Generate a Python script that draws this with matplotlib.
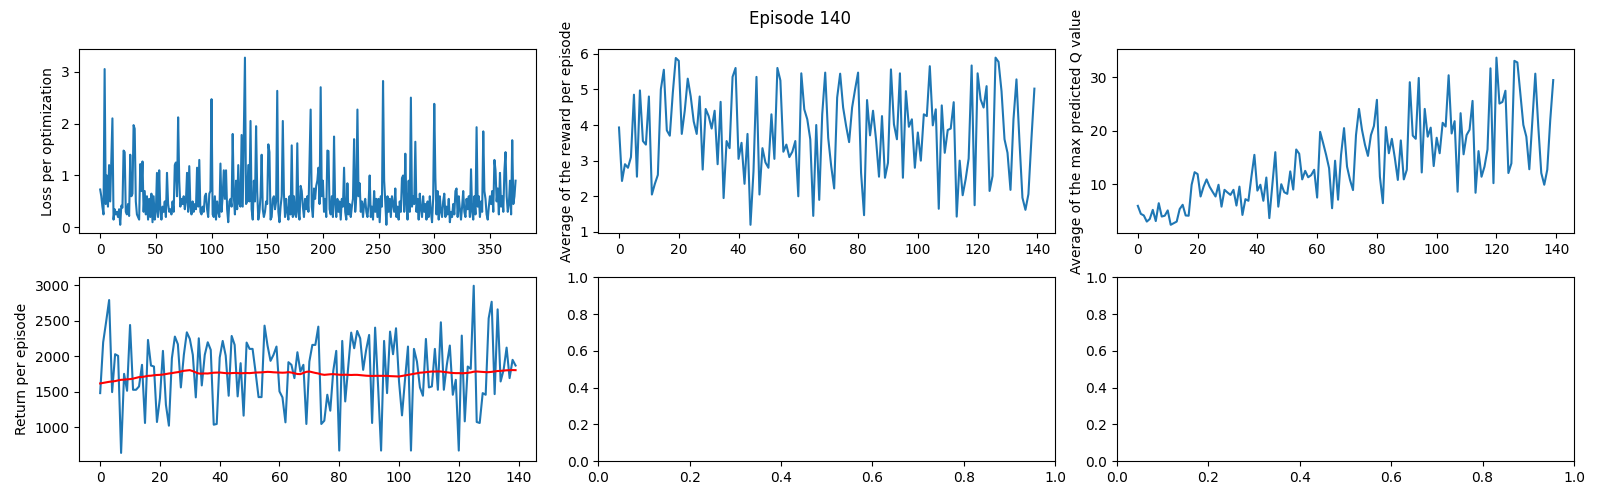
import matplotlib
matplotlib.use("Agg")
import matplotlib.pyplot as plt
import numpy as np

loss = [
0.73, 0.6, 0.4, 0.25, 3.05, 0.45, 1.0, 0.4, 1.2, 0.5,
1.27, 2.1, 0.15, 0.35, 0.25, 0.3, 0.2, 0.35, 0.05, 0.42,
0.38, 1.48, 1.45, 0.3, 0.25, 0.45, 0.22, 1.4, 0.6, 0.65,
1.97, 1.9, 0.5, 0.25, 0.2, 0.15, 1.22, 0.7, 1.27, 0.3,
0.7, 0.25, 0.6, 0.15, 0.55, 0.2, 0.65, 0.1, 0.6, 0.15,
0.3, 1.05, 0.2, 1.1, 0.35, 0.15, 0.4, 0.3, 0.5, 0.2,
1.05, 0.45, 0.3, 0.35, 0.25, 0.5, 0.3, 1.2, 1.25, 0.6,
2.12, 0.9, 0.4, 0.55, 0.45, 0.6, 0.35, 0.5, 1.05, 0.3,
1.18, 0.4, 0.25, 0.5, 0.3, 0.45, 0.35, 1.15, 0.4, 1.3,
0.3, 0.25, 0.4, 0.3, 0.6, 0.65, 0.35, 0.2, 0.65, 0.7,
2.47, 0.25, 0.2, 0.6, 0.15, 0.5, 0.3, 0.2, 1.23, 0.3,
0.6, 1.1, 0.55, 1.1, 0.35, 0.1, 0.5, 0.55, 0.4, 1.8,
0.6, 0.25, 0.9, 0.35, 1.2, 0.45, 0.4, 1.78, 0.4, 1.78,
3.27, 0.45, 0.5, 1.2, 0.5, 2.05, 0.35, 0.15, 0.9, 0.5,
1.95, 0.7, 0.15, 0.3, 0.6, 1.4, 0.35, 0.2, 0.3, 0.5,
0.45, 1.6, 1.45, 0.15, 0.2, 0.55, 0.6, 0.35, 0.5, 2.63,
0.3, 0.1, 0.4, 0.6, 2.05, 0.65, 0.2, 0.55, 0.3, 0.15,
0.6, 0.25, 1.58, 0.2, 0.6, 0.25, 0.2, 1.62, 0.3, 0.15,
0.8, 0.7, 0.4, 0.2, 0.55, 0.35, 0.6, 0.3, 1.3, 2.27,
0.4, 0.2, 0.75, 0.55, 0.8, 0.9, 1.15, 0.45, 2.7, 0.6,
0.9, 0.3, 0.55, 0.2, 1.48, 1.47, 0.35, 0.25, 0.6, 0.2,
1.75, 0.45, 0.2, 0.55, 0.3, 0.5, 0.15, 0.55, 0.4, 1.15,
0.3, 0.15, 0.85, 0.25, 0.45, 0.2, 0.4, 0.55, 1.7, 0.3,
0.6, 2.27, 0.6, 0.85, 0.3, 0.5, 0.2, 0.45, 0.55, 0.3,
0.2, 0.45, 1.0, 0.2, 0.4, 0.15, 0.7, 0.3, 0.55, 0.2,
0.55, 0.1, 0.6, 0.4, 2.82, 0.9, 0.5, 0.05, 0.6, 0.3,
0.55, 0.2, 0.6, 0.45, 0.3, 0.75, 0.2, 0.4, 0.15, 0.5,
0.3, 0.95, 1.0, 0.3, 1.42, 0.45, 0.15, 0.9, 0.3, 2.5,
0.4, 0.6, 0.45, 1.65, 0.3, 0.55, 0.15, 0.65, 0.35, 0.2,
0.6, 0.3, 0.45, 0.15, 0.5, 0.2, 0.6, 0.3, 0.1, 0.55,
2.38, 0.95, 0.25, 0.7, 0.15, 0.6, 0.3, 0.2, 0.5, 0.65,
0.2, 0.4, 0.25, 0.55, 0.1, 0.3, 0.2, 0.45, 0.25, 0.7,
0.75, 0.2, 0.6, 0.35, 0.15, 0.4, 0.7, 0.3, 0.2, 0.55,
0.35, 0.6, 0.2, 1.12, 0.3, 0.15, 0.6, 0.25, 1.93, 0.4,
0.6, 0.2, 0.5, 0.3, 1.85, 0.7, 0.55, 0.25, 0.15, 0.4,
0.6, 0.45, 0.7, 0.3, 1.3, 1.1, 0.5, 0.75, 0.25, 1.05,
0.4, 0.6, 0.3, 1.1, 1.45, 0.6, 0.3, 0.45, 0.9, 0.25,
1.68, 0.45, 0.6, 0.9,
]

reward = [
3.93, 2.43, 2.9, 2.8, 3.1, 4.85, 2.55, 4.97, 3.55, 3.45,
4.8, 2.05, 2.35, 2.6, 5.0, 5.55, 3.85, 3.7, 4.9, 5.88,
5.8, 3.75, 4.4, 5.3, 4.8, 4.1, 3.75, 4.8, 2.75, 4.45,
4.25, 3.9, 4.4, 2.9, 4.65, 1.95, 3.55, 3.35, 5.35, 5.6,
3.05, 3.5, 2.35, 3.75, 1.2, 2.7, 5.35, 2.05, 3.35, 2.95,
2.8, 4.3, 3.05, 5.6, 5.25, 3.25, 3.45, 3.1, 3.25, 3.55,
2.0, 5.45, 4.44, 4.16, 3.6, 1.45, 4.0, 1.9, 4.3, 5.47,
3.64, 2.85, 2.22, 4.77, 5.44, 4.49, 3.97, 3.52, 4.49, 5.0,
5.47, 2.66, 1.47, 4.7, 3.71, 4.4, 3.6, 2.55, 4.25, 2.52,
2.94, 5.56, 4.02, 3.6, 5.45, 2.52, 4.95, 3.95, 4.16, 2.8,
3.79, 3.0, 4.3, 4.25, 5.65, 3.99, 4.44, 1.65, 4.55, 3.22,
3.86, 3.9, 4.64, 1.43, 3.0, 2.03, 2.48, 3.06, 5.67, 1.75,
5.45, 4.72, 4.49, 5.09, 2.15, 2.57, 5.89, 5.77, 4.95, 3.6,
3.22, 2.18, 4.16, 5.28, 3.55, 1.96, 1.62, 2.06, 3.6, 5.02,
]

max_q = [
5.95, 4.45, 4.15, 3.0, 3.5, 5.2, 3.1, 6.45, 3.95, 4.1,
5.1, 2.4, 2.7, 3.0, 5.35, 6.15, 4.15, 4.1, 9.9, 12.25,
11.9, 7.7, 9.55, 10.9, 9.55, 8.6, 7.7, 9.9, 5.8, 8.95,
8.45, 8.0, 8.95, 6.0, 9.55, 4.25, 7.2, 6.9, 11.4, 15.5,
8.8, 9.9, 6.9, 11.25, 3.65, 9.8, 16.0, 5.8, 10.0, 8.5,
8.2, 12.4, 9.0, 16.5, 15.7, 10.9, 12.5, 11.3, 11.7, 12.7,
7.5, 19.8, 17.7, 15.5, 13.0, 5.5, 14.4, 7.1, 15.5, 20.5,
13.3, 10.8, 8.9, 19.2, 24.1, 20.2, 17.4, 15.3, 19.2, 20.9,
25.8, 11.4, 6.45, 20.7, 15.8, 18.5, 14.9, 10.8, 18.2, 10.9,
12.7, 29.1, 19.1, 18.5, 29.9, 12.2, 24.1, 18.9, 20.6, 13.4,
18.7, 15.8, 21.5, 20.8, 30.4, 19.5, 21.8, 8.6, 23.3, 15.6,
19.2, 20.2, 25.6, 8.4, 16.2, 11.4, 13.3, 16.5, 31.7, 10.2,
33.7, 25.1, 25.4, 27.5, 12.1, 13.9, 33.1, 32.8, 27.0, 21.1,
18.9, 12.8, 21.9, 30.7, 20.8, 12.1, 9.9, 12.7, 22.0, 29.5,
]

returns = [
1481, 2196, 2486, 2790, 1495, 2028, 2005, 640, 1752, 1514,
2439, 1528, 1528, 1575, 1879, 1061, 2229, 1869, 1855, 1075,
1411, 2075, 1318, 1023, 1972, 2276, 2168, 1561, 2019, 2336,
2243, 2019, 1421, 2252, 1589, 2019, 2196, 2089, 1037, 1047,
1981, 2215, 2009, 1444, 2285, 2159, 1435, 1902, 1164, 2192,
2103, 2103, 1776, 1425, 1425, 2430, 2150, 1935, 2019, 2136,
1505, 1421, 1070, 1916, 1879, 1692, 2056, 1785, 1879, 1047,
1925, 2159, 2159, 2416, 1047, 1093, 1458, 1234, 1794, 2075,
673, 2215, 1364, 1855, 2332, 2112, 2355, 2252, 1808, 2089,
2299, 1061, 2402, 1575, 673, 2215, 1481, 2346, 2028, 2393,
1645, 1168, 1668, 2136, 673, 2103, 1925, 1561, 1444, 2243,
1561, 1575, 2103, 1528, 2477, 1528, 1879, 2150, 1458, 1668,
673, 2290, 1084, 1855, 1822, 2991, 1075, 1061, 1481, 1458,
2533, 2766, 1467, 2659, 1645, 1808, 2121, 1692, 1949, 1869,
]

returns_avg = [
1617, 1625, 1632, 1640, 1645, 1650, 1660, 1668, 1670, 1675,
1678, 1685, 1695, 1706, 1708, 1715, 1724, 1726, 1732, 1736,
1738, 1742, 1750, 1757, 1762, 1770, 1776, 1785, 1795, 1800,
1804, 1790, 1772, 1757, 1755, 1758, 1757, 1762, 1768, 1770,
1771, 1766, 1762, 1760, 1762, 1765, 1762, 1760, 1762, 1764,
1762, 1766, 1770, 1771, 1773, 1776, 1780, 1778, 1774, 1772,
1771, 1768, 1770, 1776, 1770, 1760, 1750, 1748, 1765, 1780,
1785, 1775, 1765, 1757, 1745, 1738, 1742, 1746, 1748, 1744,
1740, 1738, 1740, 1738, 1736, 1738, 1738, 1734, 1730, 1726,
1724, 1722, 1724, 1724, 1725, 1723, 1724, 1720, 1718, 1716,
1715, 1722, 1730, 1738, 1745, 1752, 1760, 1768, 1771, 1776,
1780, 1785, 1784, 1786, 1785, 1780, 1774, 1768, 1764, 1762,
1762, 1760, 1762, 1766, 1772, 1782, 1785, 1782, 1778, 1776,
1776, 1780, 1786, 1792, 1794, 1798, 1802, 1804, 1805, 1804,
]

title = "Episode 140"
ylabels = ["Loss per optimization", "Average of the reward per episode",
           "Average of the max predicted Q value", "Return per episode"]

fig, axes = plt.subplots(2, 3, figsize=(16, 5), dpi=100)
axes[0, 0].plot(loss)
axes[0, 0].set_ylabel(ylabels[0])
axes[0, 1].plot(reward)
axes[0, 1].set_ylabel(ylabels[1])
axes[0, 2].plot(max_q)
axes[0, 2].set_ylabel(ylabels[2])
axes[1, 0].plot(returns)
axes[1, 0].plot(returns_avg, color="red")
axes[1, 0].set_ylabel(ylabels[3])
fig.suptitle(title)
fig.tight_layout()
fig.savefig("out.png")
